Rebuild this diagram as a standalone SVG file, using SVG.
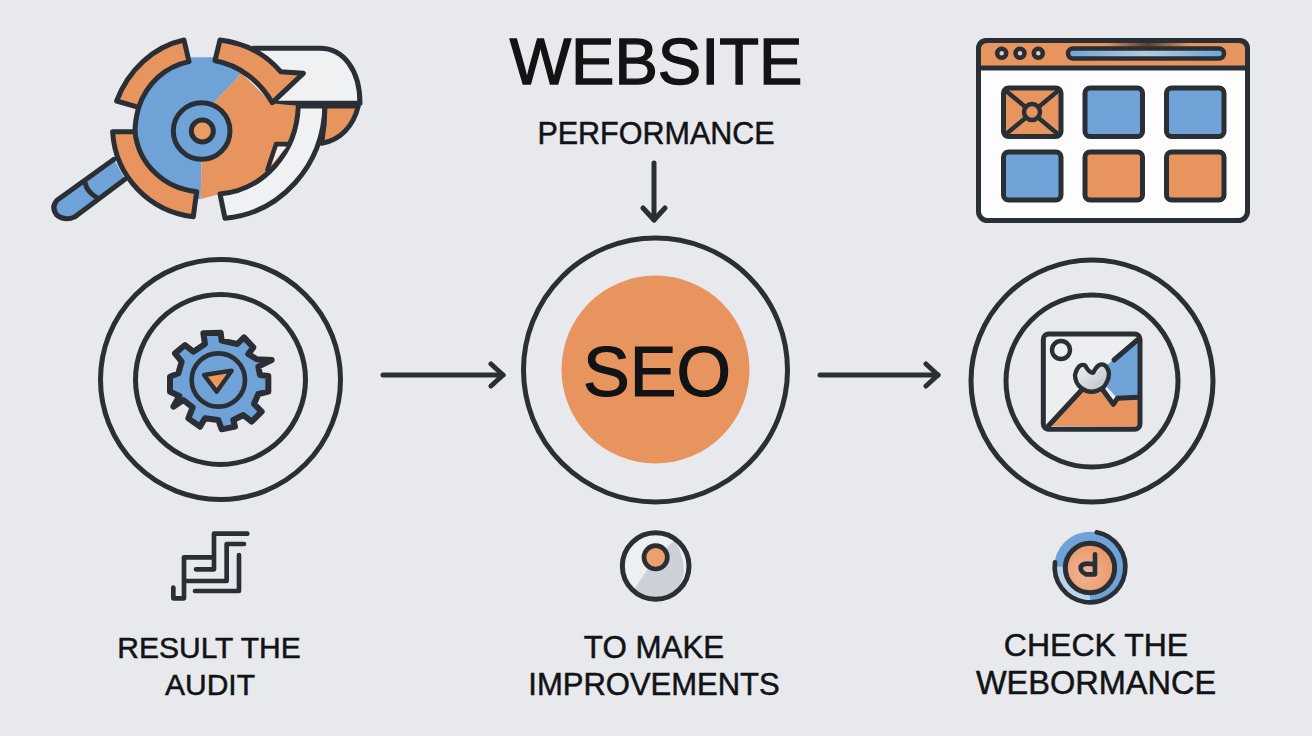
<svg xmlns="http://www.w3.org/2000/svg" width="1312" height="736" viewBox="0 0 1312 736">
<style>
.t{font-family:"Liberation Sans",Arial,sans-serif;fill:#111315;stroke:#111315;text-anchor:middle;stroke-width:.5px}
.k{stroke:#2a2f35;fill:none;stroke-linecap:round;stroke-linejoin:round}
.o{fill:#e8945f}.b{fill:#6fa3d8}.w{fill:#f0f1f3}
.ring{fill:none;stroke:#2a2f35;stroke-width:5}
.cell{stroke:#2a2f35;stroke-width:5;stroke-linejoin:round}
</style>
<defs>
<linearGradient id="sm" x1="0" x2="1" y1="0" y2="0"><stop offset="0" stop-color="#e8945f"/><stop offset=".5" stop-color="#5d4030"/><stop offset="1" stop-color="#e8945f"/></linearGradient>
<linearGradient id="bar" x1="0" x2="1" y1="0" y2="0"><stop offset="0" stop-color="#6fa3d8"/><stop offset=".5" stop-color="#b5cbdd"/><stop offset="1" stop-color="#6fa3d8"/></linearGradient>
<linearGradient id="hrt" x1="0" x2="1" y1="0" y2="1"><stop offset="0" stop-color="#f2f3f4"/><stop offset="1" stop-color="#b6bec7"/></linearGradient>
<radialGradient id="og" cx=".4" cy=".6" r=".7"><stop offset="0" stop-color="#f0b596"/><stop offset="1" stop-color="#e8945f"/></radialGradient>
<marker id="ah" viewBox="0 0 24 28" refX="21" refY="14" markerWidth="24" markerHeight="28" markerUnits="userSpaceOnUse" orient="auto"><path d="M9,3 L21,14 L9,25" fill="none" stroke="#2a2f35" stroke-width="5" stroke-linecap="round" stroke-linejoin="round"/></marker>
</defs>
<rect width="1312" height="736" fill="#e7e9ed"/>

<g id="magnifier" transform="translate(40 20) scale(.3333)">
<path class="b" d="M222,418 L52,540 Q32,560 50,585 Q75,605 105,590 L255,478 Z"/>
<path class="k" stroke-width="15" d="M222,418 L52,540 Q32,560 50,585 Q75,605 105,590 L255,478 M135,487 Q140,515 170,532"/>
<path class="w" d="M640,85 L840,85 C910,85 960,150 960,250 L700,250 L790,160 L722,155 Z"/>
<path class="k" stroke-width="15" d="M640,85 L840,85 C910,85 960,150 960,250 L700,250"/>
<path class="b" d="M455,112 L522,112 L605,160 L520,250 L485,425 L482,537 C360,530 285,440 285,330 C285,210 370,125 455,112 Z"/>
<path class="o" d="M605,160 L697,250 L775,258 C770,400 670,510 540,522 L482,537 L485,425 L520,250 Z"/>
<path class="k" stroke-width="15" d="M296,262 C287,295 285,315 285,335"/>
<path class="w" d="M775,258 L855,258 C850,440 720,580 555,595 L540,522 C670,510 770,400 775,258 Z"/>
<path class="k" stroke-width="15" d="M775,258 L855,258 C850,440 720,580 555,595 L540,522 C670,510 770,400 775,258 Z"/>
<path class="w" d="M714,380 L740,380 L694,436 Z"/>
<path class="k" stroke-width="13" d="M745,372 L708,372 L682,450"/>
<path class="k" stroke-width="15" style="fill:#e8945f" d="M855,258 L955,258 C940,320 900,360 845,370 C852,330 855,295 855,258 Z"/>
<path class="k" stroke-width="15" style="fill:#e8945f" d="M432,60 L447,125 C375,140 320,190 296,262 L230,243 C265,150 340,80 432,60 Z"/>
<path class="k" stroke-width="15" style="fill:#e8945f" d="M540,60 L525,122 C600,135 660,185 697,248 L790,160 L722,155 C680,105 620,70 540,60 Z"/>
<path class="k" stroke-width="15" style="fill:#e8945f" d="M218,335 L285,335 C295,430 370,505 470,515 L460,590 C330,575 225,470 218,335 Z"/>
<circle cx="485" cy="333" r="85" fill="#6fa3d8" stroke="#2a2f35" stroke-width="15"/>
<circle cx="487" cy="333" r="33" fill="#eb9c66" stroke="#2a2f35" stroke-width="15"/>
</g>

<g id="title"><text class="t" x="656" y="84" font-size="65" style="stroke-width:1.4px">WEBSITE</text><text class="t" x="656" y="144" font-size="30.500">PERFORMANCE</text></g>

<g id="browser">
<rect x="978.500" y="40.500" width="269" height="180" rx="9" fill="#fdfdfd" stroke="#2a2f35" stroke-width="5"/>
<path class="o" d="M980,68 V50 Q980,42 988,42 H1238 Q1246,42 1246,50 V68 Z"/>
<path fill="url(#sm)" d="M1105,43 H1190 V49 H1105 Z"/>
<path class="k" stroke-width="5" d="M978.500,68 V49.500 Q978.500,40.500 987.500,40.500 H1238.500 Q1247.500,40.500 1247.500,49.500 V68 M978.500,68 H1247.500"/>
<circle cx="1001.700" cy="53.300" r="4.500" fill="#e8c9b0" stroke="#2a2f35" stroke-width="4.500"/>
<circle cx="1020" cy="53.300" r="4.500" fill="#e8c9b0" stroke="#2a2f35" stroke-width="4.500"/>
<circle cx="1038.300" cy="53.300" r="4.500" fill="#e8c9b0" stroke="#2a2f35" stroke-width="4.500"/>
<rect x="1068" y="48.500" width="156" height="10" rx="5" fill="url(#bar)" stroke="#2a2f35" stroke-width="4.500"/>
<rect class="cell o" x="1003.500" y="88" width="57.500" height="48.500" rx="5"/>
<path class="k" stroke-width="4.300" d="M1005,90 L1059,135 M1059,90 L1005,135"/>
<circle cx="1032" cy="112" r="8" fill="#e8945f" stroke="#2a2f35" stroke-width="4.500"/>
<rect class="cell b" x="1085" y="88" width="57.500" height="48.500" rx="5"/>
<rect class="cell b" x="1166.500" y="88" width="57.500" height="48.500" rx="5"/>
<rect class="cell b" x="1003.500" y="152" width="57.500" height="48" rx="5"/>
<rect class="cell o" x="1085" y="152" width="57.500" height="48" rx="5"/>
<rect class="cell o" x="1166.500" y="152" width="57.500" height="48" rx="5"/>
</g>

<g id="connectors" fill="none" stroke="#2a2f35" stroke-width="5" stroke-linecap="round">
<path d="M654,163 V220" marker-end="url(#ah)"/>
<path d="M383,375 H503" marker-end="url(#ah)"/>
<path d="M820,375 H938" marker-end="url(#ah)"/>
</g>

<g id="node-audit">
<circle class="ring" cx="220.500" cy="379.500" r="120"/>
<circle class="ring" cx="220.500" cy="379.500" r="85"/>
<g transform="translate(150 320) scale(.3333)">
<path fill="#6fa3d8" stroke="#2a2f35" stroke-width="18" stroke-linejoin="round" d="M160,40 L212,38 L215,62 L262,72 L282,52 L310,82 L295,102 L320,118 L365,120 L325,140 L330,165 L355,168 L355,215 L325,222 L312,252 L335,275 L305,305 L280,285 L250,300 L255,320 L215,328 L205,300 L165,295 L150,320 L115,295 L128,262 L100,240 L70,260 L88,228 L60,215 L60,170 L85,160 L95,125 L75,100 L105,75 L130,95 L165,72 Z"/>
<circle cx="205" cy="180" r="80" fill="none" stroke="#2a2f35" stroke-width="14"/>
<path d="M162,165 L245,152 L200,215 Z" fill="#f0965a" stroke="#2a2f35" stroke-width="13" stroke-linejoin="round"/>
</g>
</g>

<g id="node-seo">
<circle class="ring" cx="655.500" cy="370" r="132"/>
<circle class="o" cx="655.500" cy="369.500" r="94"/>
<text class="t" x="657" y="396" font-size="70" style="stroke-width:1.2px">SEO</text>
</g>

<g id="node-check">
<circle class="ring" cx="1092" cy="381" r="121"/>
<circle class="ring" cx="1092" cy="381" r="86"/>
<g transform="translate(1030 320) scale(.3333)">
<rect x="40" y="42" width="290" height="286" rx="16" fill="#eceef0"/>
<path class="b" d="M325,55 L225,140 L225,195 L262,235 L325,232 Z"/>
<path class="o" d="M55,318 L155,210 L215,212 L250,252 L262,235 L325,232 L325,320 Z"/>
<path class="k" stroke-width="15" d="M55,318 L155,210 M215,205 L250,253 L262,235 L325,232 M322,60 L252,120"/>
<rect x="40" y="42" width="290" height="286" rx="16" fill="none" stroke="#2a2f35" stroke-width="15"/>
<circle cx="93" cy="90" r="27" fill="#eceef0" stroke="#2a2f35" stroke-width="13"/>
<path fill="url(#hrt)" stroke="#2a2f35" stroke-width="13" stroke-linejoin="round" d="M135,165 Q145,128 165,136 Q178,160 190,158 Q205,125 225,136 Q250,160 222,200 Q185,228 155,205 Q135,190 135,165 Z"/>
</g>
</g>

<g id="icon-steps" class="k" transform="translate(150 520) scale(.3333)" style="stroke-width:14px">
<path d="M292,41 L192,41 L192,148 L138,148 M282,72 L230,72 L230,183 L105,183 M192,112 L102,112 L102,235 L70,235 L70,203 M267,105 L267,213 L135,213"/>
</g>
<g id="label-audit"><text class="t" font-size="30" x="209" y="658">RESULT THE</text><text class="t" font-size="30" x="210" y="695">AUDIT</text></g>

<g id="icon-dot" transform="translate(610 525) scale(.3333)">
<circle cx="137" cy="123" r="100" fill="#edeff1"/>
<path d="M137,97 L65,205 Q120,240 190,205 Q250,150 195,45 Z" fill="#cdd1d7"/>
<circle cx="137" cy="123" r="100" fill="none" stroke="#2a2f35" stroke-width="15"/>
<circle cx="137" cy="97" r="35" fill="#ec9f6f" stroke="#2a2f35" stroke-width="14"/>
</g>
<g id="label-improve"><text class="t" font-size="31.300" x="654" y="658">TO MAKE</text><text class="t" font-size="31" x="654" y="695">IMPROVEMENTS</text></g>

<g id="icon-clock" transform="translate(1040 525) scale(.3333)">
<circle cx="150" cy="127" r="92" fill="none" stroke="#6fa3d8" stroke-width="30"/>
<path fill="none" stroke="#bcd3ea" stroke-width="24" d="M58,125 A92,92 0 0 0 150,219"/>
<path class="k" stroke-width="14" d="M170,22 A106,106 0 1 1 45,112"/>
<circle cx="150" cy="129" r="74" fill="url(#og)" stroke="#2a2f35" stroke-width="15"/>
<path class="k" stroke-width="14" d="M165,88 L165,148 L138,148 Q120,140 122,125 Q130,112 160,118"/>
</g>
<g id="label-check"><text class="t" font-size="32" x="1096" y="656">CHECK THE</text><text class="t" font-size="32.500" x="1096" y="694">WEBORMANCE</text></g>
</svg>
